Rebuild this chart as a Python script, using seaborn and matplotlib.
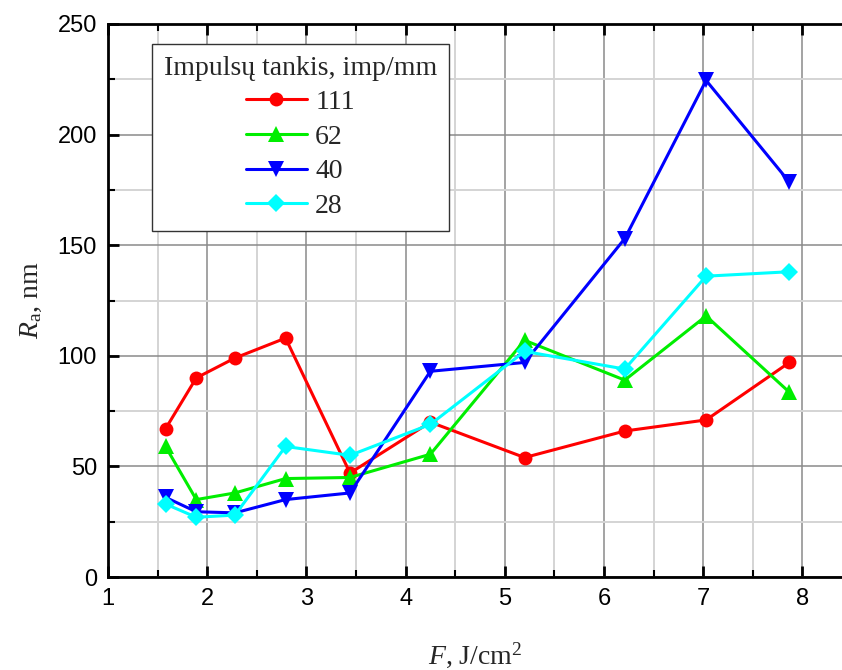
import numpy as np
import pandas as pd
import matplotlib
matplotlib.use("Agg")
import matplotlib.pyplot as plt
from matplotlib.ticker import MultipleLocator
import seaborn as sns

# Fluence values, J/cm^2
fluence = [1.58, 1.89, 2.28, 2.79, 3.44, 4.25, 5.20, 6.21, 7.03, 7.87]

# Surface roughness Ra (nm) for each pulse density (imp/mm)
ra_111 = [67, 90, 99, 108, 47, 70, 54, 66, 71, 97]
ra_62 = [59, 35, 38, 44.5, 45, 55.5, 107, 89, 118, 83.5]
ra_40 = [36, 29.5, 29, 35, 38, 93, 97, 153, 224.5, 178.5]
ra_28 = [33, 27, 28, 59, 55, 69, 102, 94, 136, 138]

series_names = ["111", "62", "40", "28"]
series_values = [ra_111, ra_62, ra_40, ra_28]
colors = {"111": "#ff0000", "62": "#00ee00", "40": "#0000ff", "28": "#00ffff"}
markers = {"111": "o", "62": "^", "40": "v", "28": "D"}
marker_sizes = {"111": 10, "62": 11, "40": 11, "28": 9}

df = pd.concat(
    [pd.DataFrame({"F": fluence, "Ra": vals, "density": name})
     for name, vals in zip(series_names, series_values)],
    ignore_index=True,
)

sns.set_theme(style="white")
plt.rcParams["font.family"] = ["Liberation Sans", "DejaVu Sans"]
plt.rcParams["mathtext.fontset"] = "custom"
plt.rcParams["mathtext.rm"] = "Liberation Serif"
plt.rcParams["mathtext.it"] = "Liberation Serif:italic"

fig = plt.figure(figsize=(8.42, 6.70), dpi=100)
ax = fig.add_axes([108 / 842, 93 / 670, 734 / 842, 553 / 670])

for name in series_names:
    sub = df[df["density"] == name]
    sns.lineplot(
        data=sub, x="F", y="Ra", ax=ax, color=colors[name],
        marker=markers[name], markersize=marker_sizes[name],
        markeredgewidth=0, linewidth=2.2, label=name, zorder=3,
    )

ax.set_xlim(1, 8.4)
ax.set_ylim(0, 250)
ax.xaxis.set_major_locator(MultipleLocator(1))
ax.xaxis.set_minor_locator(MultipleLocator(0.5))
ax.yaxis.set_major_locator(MultipleLocator(50))
ax.yaxis.set_minor_locator(MultipleLocator(25))

ax.grid(which="major", color="#8a8a8a", linewidth=1.1, zorder=0)
ax.grid(which="minor", color="#d4d4d4", linewidth=1.4, zorder=0)
ax.set_axisbelow(True)

ax.tick_params(which="both", direction="in", top=True, right=False,
               bottom=True, left=True, color="black", labelsize=17,
               labelcolor="black", pad=8)
ax.tick_params(which="major", length=8, width=2)
ax.tick_params(which="minor", length=5, width=1.5)

for side in ["left", "bottom", "top"]:
    ax.spines[side].set_color("black")
    ax.spines[side].set_linewidth(2)
ax.spines["right"].set_visible(False)

ax.set_xlabel(r"$F$, J/cm$^2$", fontsize=20, family="Liberation Serif",
              labelpad=22)
ax.set_ylabel(r"$R_{\mathrm{a}}$, nm", fontsize=20, family="Liberation Serif",
              labelpad=10)

handles, labels = ax.get_legend_handles_labels()
leg = ax.legend(
    handles, labels, title="Impulsų tankis, imp/mm", loc="upper left",
    bbox_to_anchor=(0.06, 0.964), borderaxespad=0, fancybox=False,
    frameon=True, edgecolor="#333333", framealpha=1,
    prop={"family": "Liberation Serif", "size": 20},
    title_fontproperties={"family": "Liberation Serif", "size": 20},
    labelspacing=0.33, handlelength=2.2, handletextpad=0.3,
    borderpad=0.42,
)
leg.get_frame().set_linewidth(1)

fig.savefig("out.png", dpi=100)
